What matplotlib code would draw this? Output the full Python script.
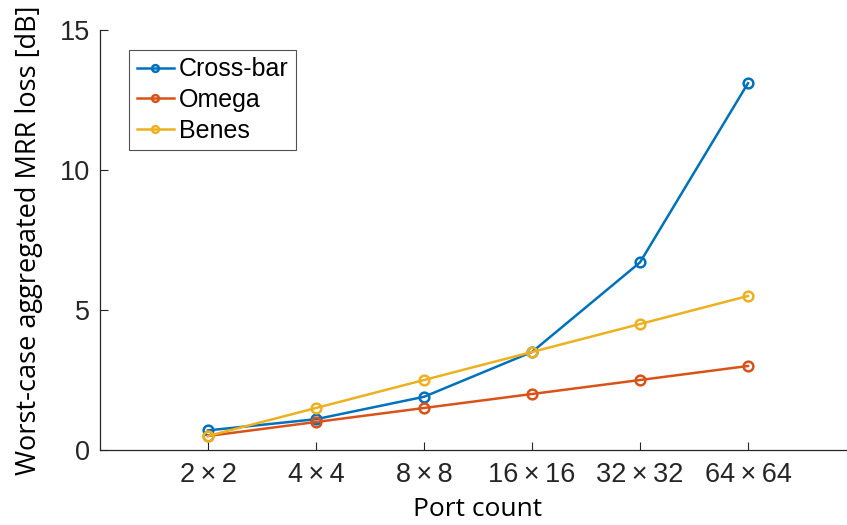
import matplotlib
matplotlib.use("Agg")
import matplotlib.pyplot as plt

# ── data ──────────────────────────────────────────────────────────────────────
ports     = ["2\u2009\u00d7\u20092", "4\u2009\u00d7\u20094", "8\u2009\u00d7\u20098",
             "16\u2009\u00d7\u200916", "32\u2009\u00d7\u200932", "64\u2009\u00d7\u200964"]
crossbar  = [0.7, 1.1, 1.9, 3.5, 6.7, 13.1]
omega     = [0.5, 1.0, 1.5, 2.0, 2.5, 3.0]
benes     = [0.5, 1.5, 2.5, 3.5, 4.5, 5.5]
series    = [("Cross-bar", crossbar, "#0072BD"),
             ("Omega",     omega,    "#D95319"),
             ("Benes",     benes,    "#EDB120")]

AX_COL = "#262626"
TICK_FONT = ["Liberation Sans", "DejaVu Sans"]
LABEL_FONT = ["Open Sans", "DejaVu Sans"]

fig = plt.figure(figsize=(8.47, 5.25), dpi=100)
ax = fig.add_axes([100/847, 75/525, 756/847, 420/525])

xpos = list(range(1, len(ports) + 1))
for name, vals, col in series:
    ax.plot(xpos, vals, color=col, linewidth=1.8, marker="o", markersize=7,
            markerfacecolor="none", markeredgewidth=1.8, label=name)

ax.set_xlim(0, 7)
ax.set_ylim(0, 15)
ax.set_xticks(xpos)
ax.set_xticklabels(ports, fontfamily=TICK_FONT, fontsize=19.5)
ax.set_yticks([0, 5, 10, 15])
ax.set_yticklabels(["0", "5", "10", "15"], fontfamily=TICK_FONT, fontsize=19.5)
ax.tick_params(direction="in", length=6, width=0.8, colors=AX_COL)
ax.tick_params(axis="x", pad=9)
ax.tick_params(axis="y", pad=7)

for s in ("top", "right"):
    ax.spines[s].set_visible(False)
for s in ("left", "bottom"):
    ax.spines[s].set_color(AX_COL)
    ax.spines[s].set_linewidth(0.9)

ax.set_xlabel("Port count", fontfamily=LABEL_FONT, fontsize=19, color="black", labelpad=6)
ax.set_ylabel("Worst-case aggregated MRR loss [dB]", fontfamily=LABEL_FONT,
              fontsize=19.5, color="black", labelpad=12)

leg = ax.legend(loc="upper left", bbox_to_anchor=(29/756, 400/420),
                prop={"family": TICK_FONT, "size": 18}, frameon=True, fancybox=False,
                handlelength=1.5, handletextpad=0.2, borderpad=0.3, labelspacing=0.26,
                borderaxespad=0, markerscale=0.7)
leg.get_frame().set_edgecolor(AX_COL)
leg.get_frame().set_linewidth(0.8)

fig.savefig("out.png", dpi=100)
